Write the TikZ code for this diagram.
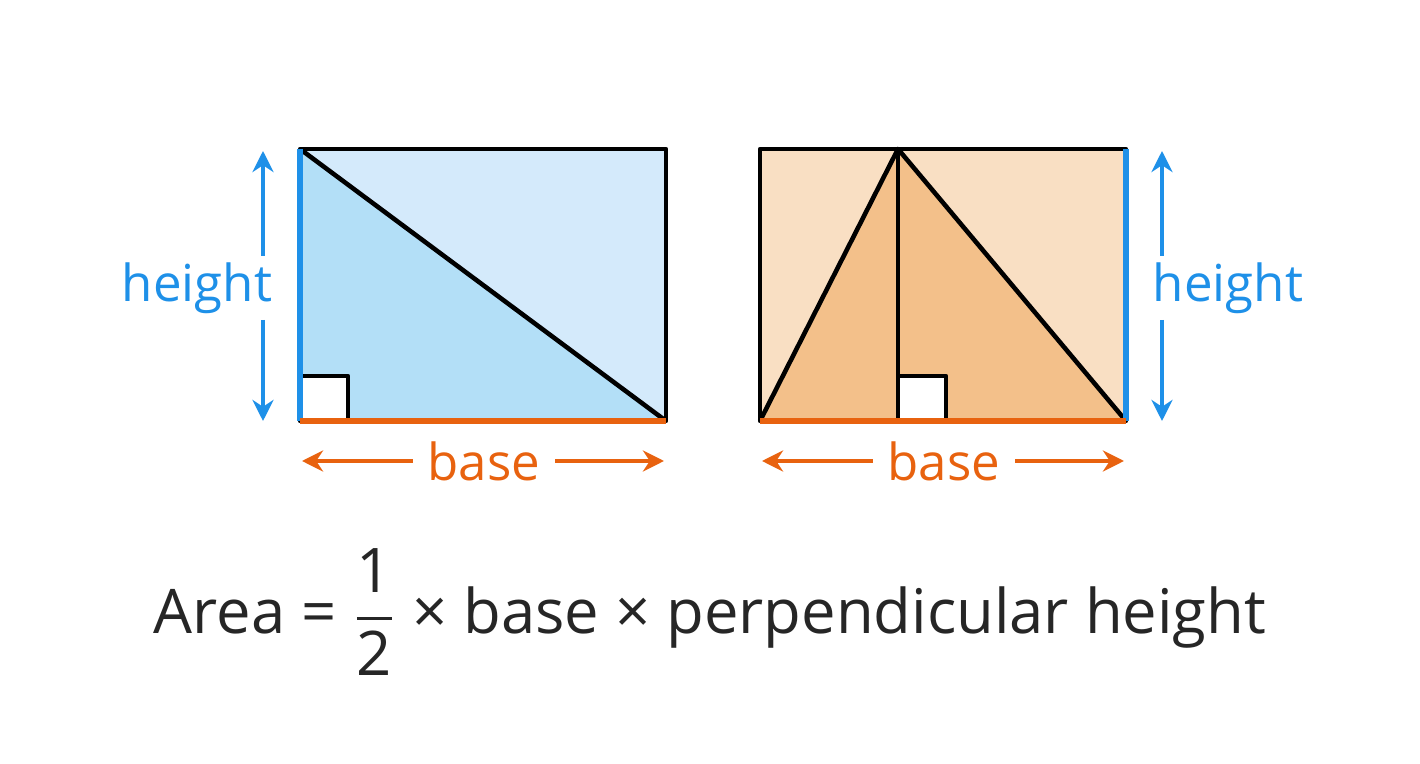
\documentclass[tikz,border=0pt]{standalone}
\usepackage{amsmath}
\usepackage{fontspec}
\setmainfont{Open Sans}
\usetikzlibrary{arrows.meta}
\definecolor{lb}{HTML}{D4EAFB}
\definecolor{db}{HTML}{B3DFF7}
\definecolor{bl}{HTML}{1E90E8}
\definecolor{lo}{HTML}{F9DFC3}
\definecolor{do}{HTML}{F3C08A}
\definecolor{or}{HTML}{E8620F}
\begin{document}
\begin{tikzpicture}[x=0.01cm,y=-0.01cm,
  edge/.style={line width=1.3pt,line join=round},
  dim/.style={line width=1.3pt,-{Stealth[length=6pt,width=6pt]}},
  lab/.style={font=\fontsize{14.5}{16}\selectfont,inner sep=1pt},
  blab/.style={lab,inner xsep=4pt}]
\useasboundingbox (0,0) rectangle (1420,764);
% left
\fill[lb] (300,149) rectangle (666,421);
\fill[db] (300,149) -- (666,421) -- (300,421) -- cycle;
\fill[white] (300,376) rectangle (348,421);
\draw[edge] (300,376) -| (348,421);
\draw[edge] (300,149) rectangle (666,421);
\draw[edge] (300,149) -- (666,421);
\draw[bl,line width=1.6pt] (300,149) -- (300,421);
\draw[or,line width=1.6pt] (300,421) -- (666,421);
\node[lab,text=bl] (hl) at (197,288) {height};
\draw[dim,bl] (263,256) -- (263,151);
\draw[dim,bl] (263,320) -- (263,421);
\node[blab,text=or] (bl1) at (484,461) {base};
\draw[dim,or] (bl1.west) -- (302,461);
\draw[dim,or] (bl1.east) -- (664,461);
% right
\fill[lo] (760,149) rectangle (1126,421);
\fill[do] (760,421) -- (898,149) -- (1126,421) -- cycle;
\fill[white] (898,376) rectangle (946,421);
\draw[edge] (898,376) -| (946,421);
\draw[edge] (760,149) rectangle (1126,421);
\draw[edge] (760,421) -- (898,149) -- (1126,421);
\draw[edge] (898,149) -- (898,421);
\draw[bl,line width=1.6pt] (1126,149) -- (1126,421);
\draw[or,line width=1.6pt] (760,421) -- (1126,421);
\node[lab,text=bl] (hr) at (1228,288) {height};
\draw[dim,bl] (1162,256) -- (1162,151);
\draw[dim,bl] (1162,320) -- (1162,421);
\node[blab,text=or] (br) at (944,461) {base};
\draw[dim,or] (br.west) -- (762,461);
\draw[dim,or] (br.east) -- (1124,461);
% formula
\node[font=\fontsize{17.5}{20}\selectfont,text=black!85] (f) at (710,612)
 {Area = $\dfrac{\text{1}}{\text{2}}$ × base × perpendicular height};
\end{tikzpicture}
\end{document}
